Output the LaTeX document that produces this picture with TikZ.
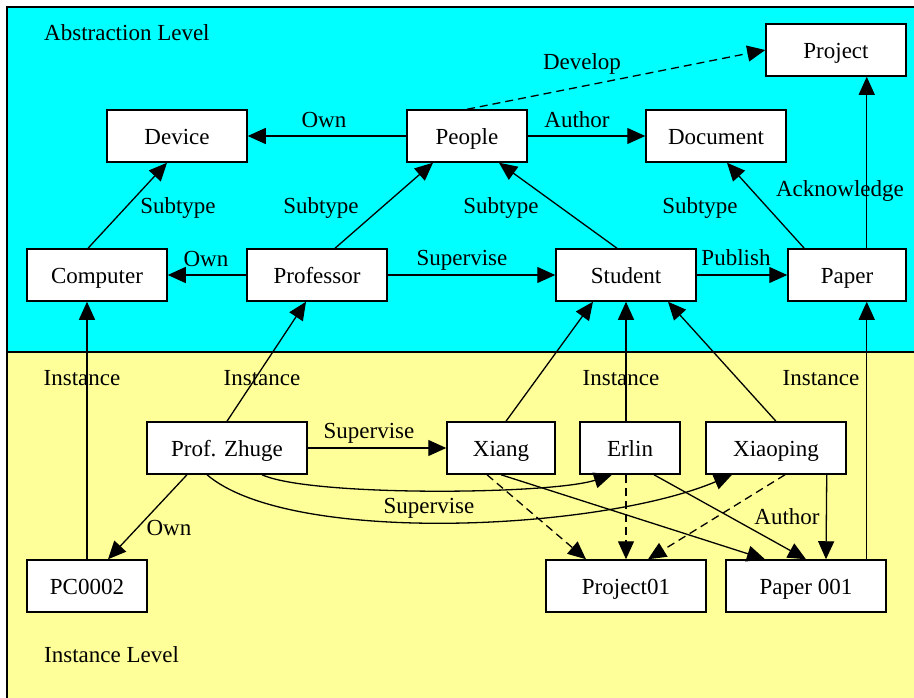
\documentclass[tikz,border=0pt]{standalone}
\usepackage{fontspec}
\setmainfont{Liberation Serif}
\usetikzlibrary{arrows.meta,calc}
\definecolor{abscyan}{RGB}{0,255,255}
\definecolor{instyellow}{RGB}{255,255,153}
\begin{document}
\begin{tikzpicture}[x=1pt,y=-1pt,
  txt/.style={font=\fontsize{23}{27}\selectfont, inner sep=0pt, text height=17pt, text depth=0pt},
  box/.style={txt, draw, line width=1.5pt, fill=white, minimum height=52pt},
  lbl/.style={txt},
  link/.style={line width=1.3pt, -{Triangle[length=18pt,width=16pt]}},
  dashlink/.style={link, dash pattern=on 8pt off 5pt},
]
\useasboundingbox (0,0) rectangle (914,697);
\clip (0,0) rectangle (914,697);
\fill[white] (0,0) rectangle (914,697);

% the two levels
\fill[abscyan] (7,7) rectangle (930,352);
\fill[instyellow] (7,352) rectangle (930,720);
\draw[line width=1.5pt] (930,7) -- (7,7) -- (7,720);
\draw[line width=1.5pt] (7,352) -- (930,352);
\node[lbl, anchor=west] (abslevel) at (44,32) {Abstraction Level};
\node[lbl, anchor=west] (instlevel) at (44,654) {Instance Level};

% abstraction level concepts
\node[box, minimum width=140pt] (project)   at (836,50)  {Project};
\node[box, minimum width=140pt] (device)    at (177,136) {Device};
\node[box, minimum width=120pt] (people)    at (467,136) {People};
\node[box, minimum width=140pt] (document)  at (716,136) {Document};
\node[box, minimum width=140pt] (computer)  at (97,275)  {Computer};
\node[box, minimum width=140pt] (professor) at (317,275) {Professor};
\node[box, minimum width=140pt] (student)   at (626,275) {Student};
\node[box, minimum width=118pt] (paper)     at (847,275) {Paper};

% instance level objects
\node[box, minimum width=160pt] (zhuge)    at (227,448) {Prof. Zhuge};
\node[box, minimum width=108pt] (xiang)    at (501,448) {Xiang};
\node[box, minimum width=100pt] (erlin)    at (630,448) {Erlin};
\node[box, minimum width=140pt] (xiaoping) at (776,448) {Xiaoping};
\node[box, minimum width=120pt] (pc)       at (87,586)  {PC0002};
\node[box, minimum width=160pt] (proj01)   at (626,586) {Project01};
\node[box, minimum width=160pt] (paper001) at (806,586) {Paper 001};

% relations between concepts
\draw[link] (people) -- (device);
\draw[link] (people) -- (document);
\draw[dashlink] (people.north) -- (project.west);
\draw[link] ([xshift=-40pt]paper.north east) -- ([xshift=-40pt]project.south east);
\draw[link] ([xshift=17pt]paper.north west) -- ([xshift=11pt]document.south);
\draw[link] ([xshift=-9pt]student.north) -- ([xshift=32pt]people.south);
\draw[link] ([xshift=18pt]professor.north) -- ([xshift=-34pt]people.south);
\draw[link] ([xshift=-9pt]computer.north) -- ([xshift=-10pt]device.south);
\draw[link] (professor) -- (computer);
\draw[link] (professor) -- (student);
\draw[link] (student) -- (paper);

% instance-of links
\draw[link] (pc.north) -- (pc.north |- computer.south);
\draw[link] (zhuge.north) -- ([xshift=-11pt]professor.south);
\draw[link] ([xshift=5pt]xiang.north) -- ([xshift=-33pt]student.south);
\draw[link] (erlin.north -| student.south) -- (student.south);
\draw[link] (xiaoping.north) -- ([xshift=42pt]student.south);
\draw[link] ([xshift=-20pt]paper001.north east) -- ([xshift=-40pt]paper.south east);

% relations between instances
\draw[link] (zhuge) -- (xiang);
\draw[link] ([xshift=35pt]zhuge.south) .. controls +(48,22) and +(-62,20) .. ([xshift=-18pt]erlin.south);
\draw[link] ([xshift=-20pt]zhuge.south) .. controls +(83,71) and +(-132,56) .. ([xshift=-44pt]xiaoping.south);
\draw[link] ([xshift=-40pt]zhuge.south) -- ([xshift=21pt]pc.north);
\draw[dashlink] ([xshift=-14pt]xiang.south) -- ([xshift=-40pt]proj01.north);
\draw[link] (xiang.south) -- ([xshift=-41pt]paper001.north);
\draw[dashlink] (erlin.south -| proj01.north) -- (proj01.north);
\draw[link] ([xshift=24pt]erlin.south) -- (paper001.north);
\draw[dashlink] ([xshift=9pt]xiaoping.south) -- ([xshift=22pt]proj01.north);
\draw[link] ([xshift=-20pt]xiaoping.south east) -- ([xshift=20pt]paper001.north);

% relation labels
\node[lbl] (lDevelop) at (582,61)  {Develop};
\node[lbl] (lOwnA)    at (324,119) {Own};
\node[lbl] (lAuthorA) at (577,119) {Author};
\node[lbl] (lSubA)    at (178,205) {Subtype};
\node[lbl] (lSubB)    at (321,205) {Subtype};
\node[lbl] (lSubC)    at (501,205) {Subtype};
\node[lbl] (lSubD)    at (700,205) {Subtype};
\node[lbl] (lAck)     at (840,188) {Acknowledge};
\node[lbl] (lOwnB)    at (206,258) {Own};
\node[lbl] (lSupA)    at (462,257) {Supervise};
\node[lbl] (lPub)     at (736,257) {Publish};
\node[lbl] (lInstA)   at (82,377)  {Instance};
\node[lbl] (lInstB)   at (262,377) {Instance};
\node[lbl] (lInstC)   at (621,377) {Instance};
\node[lbl] (lInstD)   at (821,377) {Instance};
\node[lbl] (lSupB)    at (369,430) {Supervise};
\node[lbl] (lSupC)    at (429,505) {Supervise};
\node[lbl] (lOwnC)    at (169,527) {Own};
\node[lbl] (lAuthorB) at (787,516) {Author};
\end{tikzpicture}
\end{document}
